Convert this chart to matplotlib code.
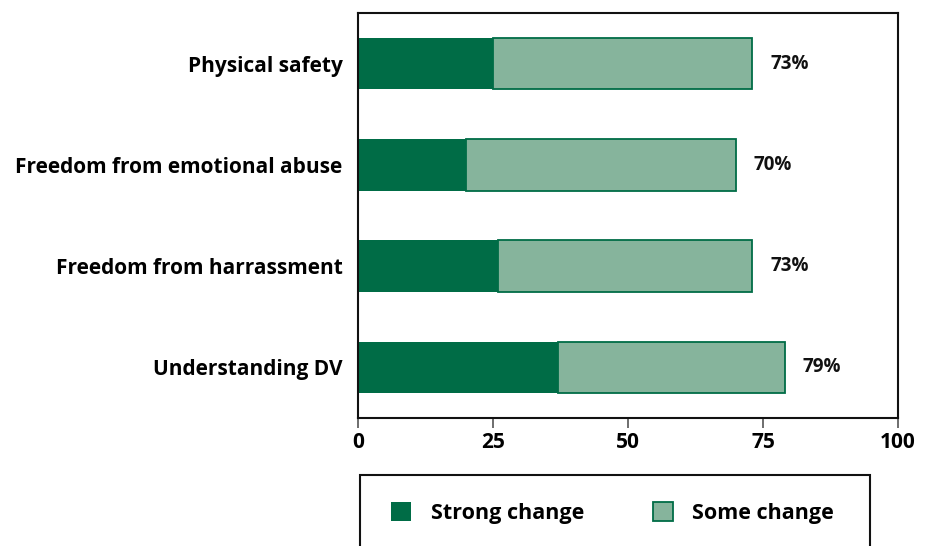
import matplotlib
matplotlib.use("Agg")
import matplotlib.pyplot as plt
from matplotlib.patches import Rectangle

# data
categories = ["Physical safety", "Freedom from emotional abuse",
              "Freedom from harrassment", "Understanding DV"]
strong = [25, 20, 26, 37]
totals = [73, 70, 73, 79]
some = [t - s for t, s in zip(totals, strong)]
xticks = [0, 25, 50, 75, 100]

dark = "#006c46"
light = "#86b49c"

plt.rcParams["font.family"] = ["Open Sans", "DejaVu Sans"]
plt.rcParams["font.weight"] = "bold"

fig = plt.figure(figsize=(9.33, 5.46), dpi=100)
ax = fig.add_axes([358 / 933, 1 - 418 / 546, 540 / 933, 405 / 546])

pos = list(range(len(categories)))
b1 = ax.barh(pos, strong, height=0.51, color=dark, edgecolor=dark, linewidth=0,
             label="Strong change")
b2 = ax.barh(pos, some, left=strong, height=0.51, color=light, edgecolor=dark,
             linewidth=1.3, label="Some change")

for p, t in zip(pos, totals):
    ax.text(t + 3.3, p, f"{t}%", va="center", ha="left", fontsize=13.5,
            fontweight="bold", color="#111111")

ax.set_xlim(0, 100)
ax.set_ylim(3.5, -0.5)
ax.set_yticks(pos)
ax.set_yticklabels(categories, fontsize=15, fontweight="bold")
ax.tick_params(axis="y", length=0, pad=11)
ax.set_xticks(xticks)
ax.set_xticklabels([str(x) for x in xticks], fontsize=15, fontweight="bold")
ax.tick_params(axis="x", length=7, width=1.2, color="#555555", pad=3)
for s in ax.spines.values():
    s.set_linewidth(1.5)
    s.set_color("#111111")

# legend box, running off the bottom of the figure
fig.patches.append(Rectangle((360 / 933, -0.05), 510 / 933, 0.05 + (546 - 475) / 546,
                             transform=fig.transFigure, fill=False,
                             edgecolor="#111111", linewidth=1.5))
fig.legend(handles=[b1, b2], loc="center left",
           bbox_to_anchor=(372 / 933, 1 - 513 / 546), ncol=2, frameon=False,
           fontsize=15.5, handlelength=0.93, handleheight=0.93, handletextpad=0.9,
           columnspacing=3.2)

fig.savefig("out.png", dpi=100)
